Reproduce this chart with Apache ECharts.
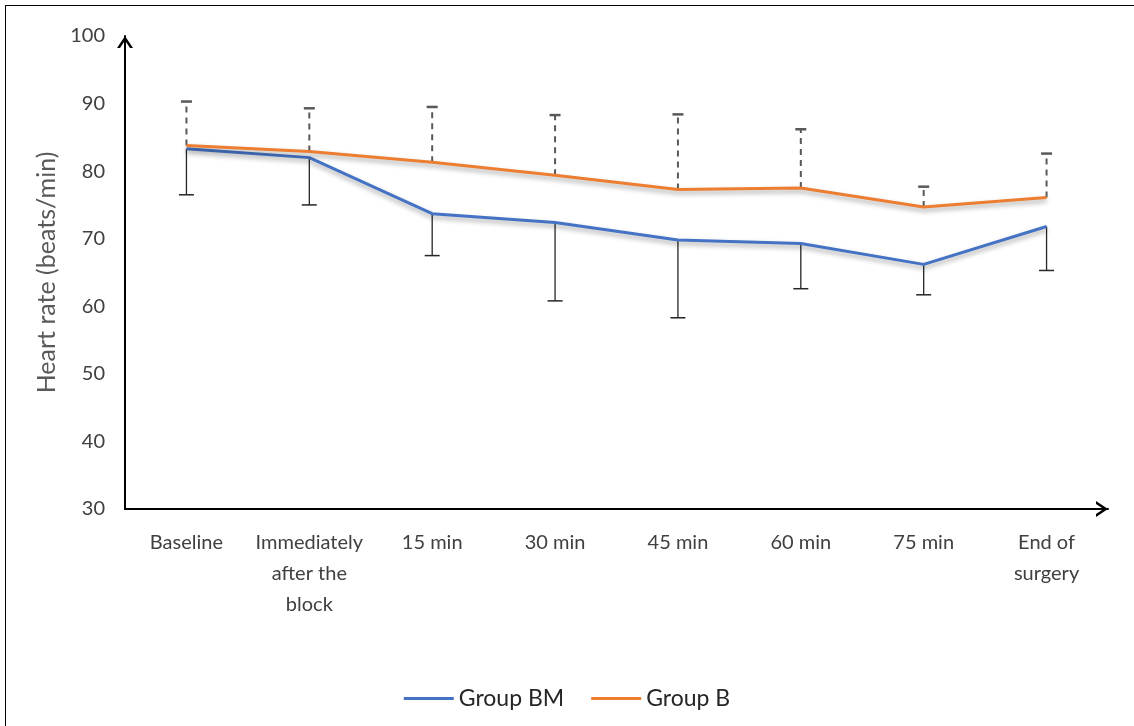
<!DOCTYPE html>
<html>
<head>
<meta charset="utf-8">
<script src="https://cdn.jsdelivr.net/npm/echarts@6/dist/echarts.min.js"></script>
<style>
html,body{margin:0;padding:0;background:#fff;}
#frame{position:absolute;left:5px;top:5px;width:1129px;height:721px;border-left:1.5px solid #000;border-top:1.5px solid #000;box-sizing:border-box;}
#chart{position:absolute;left:0;top:0;width:1134px;height:726px;}
</style>
</head>
<body>
<div id="frame"></div>
<div id="chart"></div>
<script>
const categories = ['Baseline', 'Immediately\nafter the\nblock', '15 min', '30 min', '45 min', '60 min', '75 min', 'End of\nsurgery'];
const groupBM = [83.3, 82.0, 73.7, 72.4, 69.8, 69.3, 66.2, 71.8];
const groupBMLow = [76.5, 75.0, 67.5, 60.8, 58.3, 62.6, 61.7, 65.3];
const groupB = [83.8, 82.9, 81.3, 79.4, 77.3, 77.5, 74.7, 76.1];
const groupBHigh = [90.3, 89.3, 89.5, 88.3, 88.4, 86.2, 77.7, 82.6];
const yTicks = {min: 30, max: 100, interval: 10};

const chart = echarts.init(document.getElementById('chart'));
const FONT = 'Lato';

function errorBar(means, ends, dashed, capW, color) {
  return {
    type: 'custom',
    z: 1,
    silent: true,
    data: means.map((m, i) => [i, m, ends[i]]),
    encode: {x: 0, y: [1, 2]},
    renderItem: function (params, api) {
      const p0 = api.coord([api.value(0), api.value(1)]);
      const p1 = api.coord([api.value(0), api.value(2)]);
      return {
        type: 'group',
        children: [
          {type: 'line', shape: {x1: p0[0], y1: p0[1], x2: p1[0], y2: p1[1]},
           style: {stroke: color, lineWidth: dashed ? 2 : 1.3, lineDash: dashed ? [6, 5] : null}},
          {type: 'line', shape: {x1: p1[0] - capW / 2, y1: p1[1], x2: p1[0] + capW / 2, y2: p1[1]},
           style: {stroke: color, lineWidth: dashed ? 2.5 : 1.5}}
        ]
      };
    }
  };
}

const arrowPath = 'path://M0,12 L8,0 L16,12 L13,12 L8,4.5 L3,12 Z';

chart.setOption({
  animation: false,
  backgroundColor: 'transparent',
  grid: {left: 125, right: 26, top: 36, bottom: 217, containLabel: false},
  legend: {
    top: 682,
    left: 'center',
    itemWidth: 50,
    itemHeight: 3,
    itemGap: 27,
    icon: 'rect',
    textStyle: {fontFamily: FONT, fontSize: 23, color: '#262626'},
    data: ['Group BM', 'Group B']
  },
  xAxis: {
    type: 'category',
    data: categories,
    boundaryGap: true,
    axisLine: {show: true, lineStyle: {color: '#000', width: 2}, symbol: ['none', arrowPath], symbolSize: [16, 12], symbolOffset: [0, -6]},
    axisTick: {show: false},
    axisLabel: {fontFamily: FONT, fontSize: 20, color: '#404040', margin: 18, lineHeight: 31, interval: 0}
  },
  yAxis: {
    type: 'value',
    min: yTicks.min,
    max: yTicks.max,
    interval: yTicks.interval,
    name: 'Heart rate (beats/min)',
    nameLocation: 'middle',
    nameGap: 65,
    nameTextStyle: {fontFamily: FONT, fontSize: 25, color: '#595959'},
    axisLine: {show: true, lineStyle: {color: '#000', width: 2}, symbol: ['none', arrowPath], symbolSize: [16, 12], symbolOffset: [0, -6]},
    axisTick: {show: false},
    splitLine: {show: false},
    axisLabel: {fontFamily: FONT, fontSize: 20, color: '#404040', margin: 20}
  },
  series: [
    errorBar(groupBM, groupBMLow, false, 15, '#262626'),
    errorBar(groupB, groupBHigh, true, 11, '#595959'),
    {
      name: 'Group BM', type: 'line', data: groupBM, z: 3,
      symbol: 'none', color: '#4472C4',
      lineStyle: {width: 3, color: '#4472C4', shadowColor: 'rgba(0,0,0,0.35)', shadowBlur: 5, shadowOffsetY: 3}
    },
    {
      name: 'Group B', type: 'line', data: groupB, z: 3,
      symbol: 'none', color: '#ED7D31',
      lineStyle: {width: 3, color: '#ED7D31', shadowColor: 'rgba(0,0,0,0.35)', shadowBlur: 5, shadowOffsetY: 3}
    }
  ]
});
</script>
</body>
</html>
